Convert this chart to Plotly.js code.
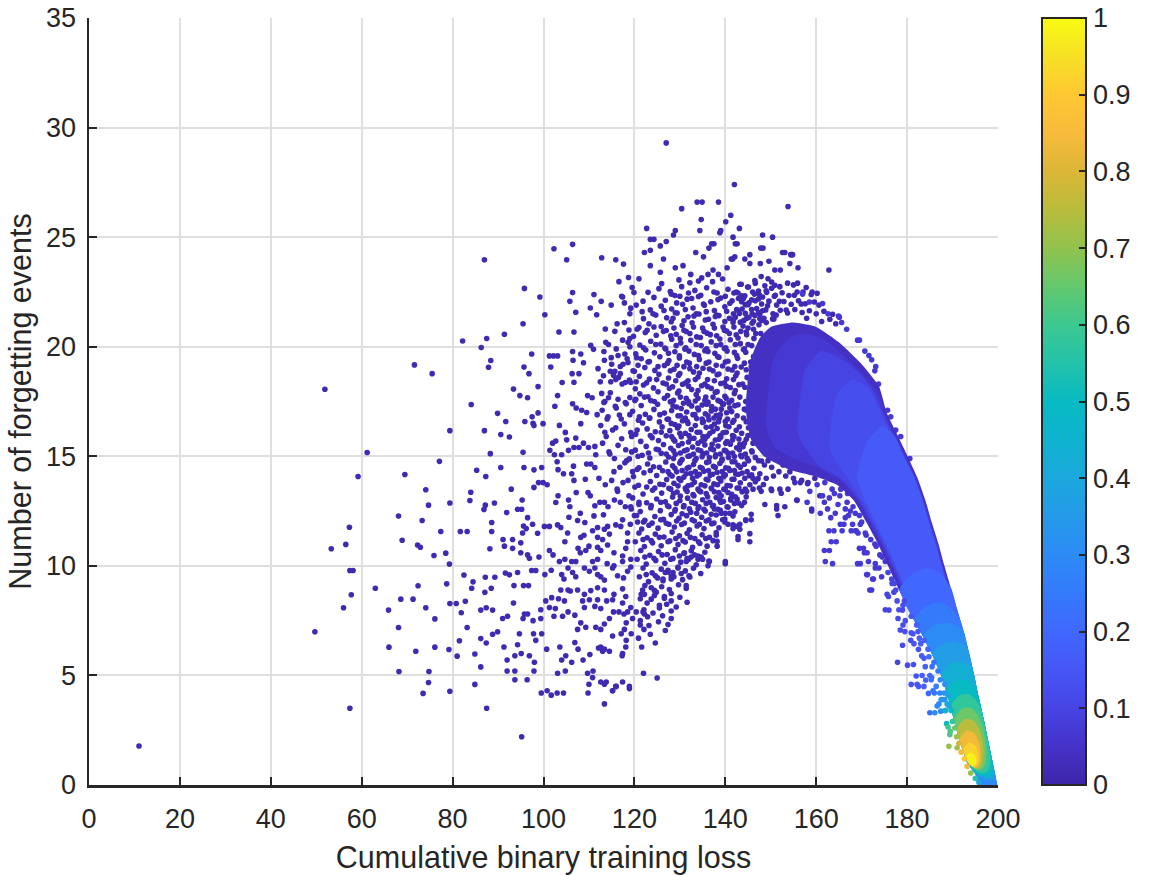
<!DOCTYPE html>
<html>
<head>
<meta charset="utf-8">
<script src="https://cdn.plot.ly/plotly-3.0.1.min.js"></script>
<style>html,body{margin:0;padding:0;background:#fff;}#chart{width:1167px;height:875px;}</style>
</head>
<body>
<div id="chart"></div>
<script>
// ---------- colour scale (parula-like) ----------
const parulaStops = [
  [0.00,[62,38,168]],[0.05,[69,50,200]],[0.10,[71,68,228]],[0.15,[70,86,245]],
  [0.20,[64,104,254]],[0.25,[52,122,251]],[0.30,[45,139,245]],[0.35,[36,154,233]],
  [0.40,[28,168,220]],[0.45,[14,178,207]],[0.50,[8,186,194]],[0.55,[35,194,170]],
  [0.60,[60,200,145]],[0.65,[100,200,110]],[0.70,[145,194,78]],[0.75,[185,188,60]],
  [0.80,[220,182,55]],[0.85,[248,186,60]],[0.90,[254,200,50]],[0.95,[246,224,37]],
  [1.00,[249,251,20]]
];
const colorbarTicks = [0,0.1,0.2,0.3,0.4,0.5,0.6,0.7,0.8,0.9,1];
const xTicks = [0,20,40,60,80,100,120,140,160,180,200];
const yTicks = [0,5,10,15,20,25,30,35];

// ---------- sparse points (low density) ----------
const sparseLeft = [
[11.0,1.78],[51.9,18.06],[61.2,15.17],[59.2,14.08],[71.6,19.17],[75.5,18.77],[82.2,20.26],[87.5,20.37],[86.3,19.96],[88.4,19.37],[87.9,19.06],[84.1,17.36],[89.9,16.96],[79.4,16.17],[87.0,16.17],[88.3,15.12],[77.1,14.77],[69.5,14.17],[85.3,14.36],[87.3,14.08],[74.1,13.47],[84.0,13.36],[83.8,12.98],[74.7,12.77],[79.4,12.87],[87.2,12.77],[89.2,12.87],[86.9,12.57],[68.1,12.27],[73.3,12.07],[57.3,11.76],[88.6,11.98],[77.4,11.57],[81.7,11.57],[83.2,11.57],[88.6,11.57],[56.5,10.98],[53.3,10.78],[68.9,11.17],[72.3,10.95],[72.9,10.85],[75.9,10.47],[78.5,10.58],[88.2,10.78],[79.3,10.08],[57.4,9.79],[58.1,9.79],[82.5,9.58],[84.5,9.27],[87.2,9.48],[89.3,9.48],[63.0,8.98],[72.4,9.09],[78.7,9.18],[84.2,8.98],[87.1,8.79],[88.5,8.98],[57.7,8.68],[68.6,8.48],[71.3,8.48],[56.0,8.09],[65.9,7.98],[74.1,8.09],[79.4,8.28],[80.8,8.28],[82.8,8.38],[81.9,7.86],[86.2,7.98],[87.4,8.09],[88.8,7.98],[76.1,7.58],[49.7,6.99],[68.1,7.19],[83.2,7.19],[89.9,6.99],[88.8,6.88],[81.5,6.58],[86.2,6.68],[87.4,6.48],[66.0,6.29],[71.9,6.1],[76.1,6.29],[79.2,6.18],[81.0,5.88],[84.9,5.98],[86.2,5.39],[68.2,5.18],[74.8,5.18],[74.7,4.68],[84.9,4.59],[73.5,4.18],[79.4,4.28],[57.4,3.5],[87.5,3.5],[87.0,23.97]
];
const sparseMidUpper = [
[106.4,24.67],[102.3,24.47],[105.1,23.97],[112.8,24.06],[115.9,23.97],[117.6,23.77],[116.6,22.97],[118.7,23.16],[95.8,22.66],[99.2,22.27],[106.4,22.47],[105.8,22.07],[111.1,22.38],[112.7,22.07],[117.4,22.27],[119.9,22.47],[114.9,21.9],[117.8,22.0],[119.2,21.76],[100.3,21.46],[107.1,21.57],[110.3,21.77],[111.7,21.46],[95.5,21.05],[103.4,20.67],[106.7,20.67],[113.6,20.81],[116.2,21.05],[118.8,20.76],[119.0,20.37],[91.4,20.57],[110.4,20.06],[111.0,19.88],[113.7,20.2],[114.3,20.1],[97.4,19.67],[101.3,19.58],[102.2,19.58],[103.1,19.58],[106.4,19.78],[106.5,19.38],[108.2,19.67],[108.8,19.27],[113.3,19.78],[113.4,19.38],[117.9,19.67],[118.4,19.45],[95.7,19.07],[101.6,19.07],[96.8,18.77],[106.3,18.77],[107.8,18.77],[114.7,18.88],[115.7,18.88],[116.9,18.77],[106.7,18.38],[104.1,18.37],[113.2,18.67],[114.8,18.4],[115.9,18.5],[116.5,18.6],[118.0,18.37],[119.2,18.37],[98.8,18.18],[93.4,18.07],[94.8,17.77],[96.5,17.67],[103.1,17.77],[109.7,17.77],[110.7,17.67],[112.8,17.87],[114.3,17.67],[113.3,17.46],[102.5,17.28],[106.4,17.4],[107.2,17.2],[108.4,17.1],[109.5,17.0],[98.8,16.98],[91.7,16.59],[95.9,16.59],[97.5,16.8],[97.7,16.5],[97.9,16.4],[99.9,16.49],[103.5,16.41],[108.2,16.49],[90.6,15.99],[92.5,15.88],[104.8,16.09],[102.0,15.6],[102.7,15.7],[105.1,15.75],[107.1,15.83],[95.5,15.18],[101.4,15.27],[102.4,15.07],[104.0,15.07],[105.5,15.27],[106.7,15.4],[107.8,15.4],[108.8,15.6],[109.9,15.4],[111.3,15.45],[111.5,15.07],[90.6,14.49],[95.7,14.49],[97.9,14.38],[99.6,14.49],[103.2,14.39],[106.6,14.55],[109.5,14.65],[110.4,14.65],[111.3,14.49],[103.0,14.75],[98.9,13.8],[99.9,13.8],[97.9,13.58],[100.8,13.7],[92.9,13.5],[104.4,14.2],[106.2,14.2],[106.7,13.9],[109.2,13.95],[95.3,13.0],[103.2,13.2],[105.5,13.0],[107.2,13.35],[109.8,13.35],[110.3,13.2],
[112.0,19.0],[112.5,18.4],[111.8,16.9],[112.6,16.4],[113.5,16.1],[114.2,16.8],[115.2,16.2],[116.0,17.2],[117.1,16.7],[118.2,17.4],[119.0,16.9],[120.3,17.6],[119.7,18.9],[120.5,19.5],[115.0,19.2],[116.4,19.6],[118.6,20.2],[117.2,15.8],[118.1,15.3],[119.4,15.9],[120.6,16.2],[113.0,15.6],[114.4,15.2],[115.6,14.9],[116.8,14.5],[118.3,14.8],[119.6,14.3],[120.8,15.0],[112.2,14.0],[113.6,13.7],[115.0,13.9],[116.3,13.4],[117.5,13.8],[118.8,13.2],[120.1,13.6],[112.4,12.9],[114.2,12.7],[116.9,12.9],[119.3,12.6],[121.0,12.9]
];
const sparseMidLower = [
[91.9,12.43],[94.3,12.58],[95.2,12.58],[96.5,12.2],[97.6,11.9],[95.6,11.82],[96.2,11.7],[95.4,11.5],[98.7,11.49],[100.2,11.8],[101.3,11.8],[103.1,11.87],[103.8,11.75],[102.7,12.89],[105.8,12.7],[105.6,12.22],[108.1,12.4],[107.5,12.07],[109.1,11.98],[111.1,12.28],[113.4,12.9],[115.6,13.0],[113.2,12.33],[111.3,12.74],[114.1,11.8],[115.9,11.87],[117.4,12.1],[119.2,12.7],[120.0,12.3],[120.7,12.0],[105.3,11.5],[104.7,11.1],[108.2,11.3],[108.9,11.4],[110.8,11.6],[111.9,11.75],[113.4,11.67],[111.9,11.3],[113.0,11.2],[114.5,11.45],[117.0,11.8],[118.5,11.5],[91.1,11.2],[91.4,10.9],[93.2,10.8],[95.0,10.6],[93.2,11.2],[95.0,11.05],[96.5,10.5],[96.9,10.35],[99.0,10.4],[101.3,10.7],[102.1,10.5],[103.5,10.2],[104.7,10.3],[106.2,10.2],[107.1,10.2],[107.6,10.8],[108.1,10.6],[109.3,10.7],[110.0,10.9],[111.9,10.85],[112.6,10.7],[114.1,10.95],[115.5,10.6],[117.4,10.45],[119.2,10.3],[110.8,10.2],[111.9,10.3],[114.0,10.1],[115.5,10.0],[117.4,10.2],[119.2,9.95],[118.5,11.1],[118.1,10.8],[91.6,9.67],[92.5,9.59],[94.3,9.7],[95.6,9.1],[96.7,9.1],[97.4,9.79],[98.3,9.79],[100.3,9.6],[101.7,9.8],[104.0,9.6],[104.5,9.4],[105.4,9.9],[106.4,9.7],[107.1,9.5],[109.0,9.9],[110.1,9.75],[111.3,9.9],[111.9,9.6],[112.6,9.5],[113.4,9.35],[115.2,9.9],[116.3,9.55],[117.6,9.45],[118.5,9.75],[103.8,8.9],[105.4,8.9],[107.5,8.9],[109.0,8.7],[110.4,8.87],[111.9,9.0],[113.4,8.9],[115.5,8.7],[117.4,8.95],[118.1,8.6],[93.4,8.3],[93.5,9.1],[95.8,7.8],[99.4,8.0],[100.5,8.4],[101.8,8.55],[101.3,8.1],[102.6,8.05],[104.6,8.4],[103.3,8.5],[105.4,7.9],[106.9,7.75],[105.9,8.85],[108.6,8.4],[109.0,8.1],[110.1,8.45],[111.3,8.15],[111.9,8.45],[112.6,8.05],[113.9,8.4],[115.2,8.45],[116.6,7.9],[117.7,7.8],[119.2,8.1],[91.0,7.6],[92.1,7.7],[95.5,7.6],[96.5,7.8],[97.7,7.5],[99.4,7.6],[102.3,7.7],[104.2,7.7],[94.7,6.9],[97.8,6.9],[99.6,6.9],[98.3,6.6],[107.5,7.1],[108.2,7.4],[109.3,7.2],[111.5,7.2],[112.6,7.1],[113.4,7.35],[115.2,6.8],[118.1,6.3],[106.9,6.5],[107.6,6.2],[112.1,6.25],[113.0,6.1],[114.5,6.1],[117.3,5.9],[91.3,6.3],[94.3,6.4],[103.6,6.3],[100.7,6.2],[92.0,5.7],[93.7,5.9],[95.1,6.0],[96.9,5.9],[98.0,5.6],[104.9,5.9],[104.0,5.7],[106.2,5.6],[108.7,5.7],[110.2,5.95],[92.0,5.2],[93.7,5.2],[96.4,4.8],[97.9,5.2],[103.1,5.1],[104.8,5.2],[109.7,5.1],[110.9,5.2],[110.8,4.9],[110.0,4.6],[113.4,4.6],[115.9,4.5],[118.9,4.4],[115.2,4.3],[93.7,4.8],[99.5,4.2],[100.8,4.3],[101.7,4.1],[103.0,4.2],[104.4,4.2],[109.8,4.2],[113.4,3.7],[95.2,2.2]
];
const cloudLower = [
[113.5,17.5],[115.8,17.28],[118.0,17.45],[121.5,17.32],[123.6,17.54],[125.1,17.37],[127.9,17.49],[129.3,17.25],[130.8,17.42],[132.6,17.3],[133.4,17.52],[134.9,17.34],[136.2,17.47],[137.0,17.27],[138.4,17.55],[139.6,17.39],[140.8,17.44],[142.1,17.31],
[112.9,17.1],[116.7,16.88],[119.6,17.05],[122.4,16.92],[124.3,17.14],[126.6,16.97],[128.2,17.09],[130.1,16.85],[131.5,17.02],[132.9,16.9],[134.1,17.12],[135.6,16.94],[136.9,17.07],[138.0,16.87],[139.1,17.15],[140.3,16.99],[141.4,17.04],
[114.0,16.7],[117.8,16.48],[120.9,16.65],[121.8,16.52],[123.3,16.74],[125.5,16.57],[127.2,16.69],[128.9,16.45],[130.6,16.62],[131.8,16.5],[133.7,16.72],[135.0,16.54],[136.4,16.67],[137.6,16.47],[138.7,16.75],[140.0,16.59],[141.9,16.64],
[115.9,16.3],[119.2,16.08],[122.8,16.25],[124.6,16.12],[126.1,16.34],[127.8,16.17],[129.5,16.29],[131.2,16.05],[132.5,16.22],[134.4,16.1],[135.8,16.32],[137.3,16.14],[138.2,16.27],[139.5,16.07],[140.8,16.35],[142.4,16.19],
[113.8,15.9],[121.4,15.68],[123.9,15.85],[125.3,15.72],[127.0,15.94],[128.6,15.77],[130.3,15.89],[131.9,15.65],[133.1,15.82],[134.8,15.7],[136.1,15.92],[137.8,15.74],[139.0,15.87],[140.4,15.67],[141.6,15.95],[143.0,15.79],
[116.4,15.5],[120.2,15.28],[122.6,15.45],[124.8,15.32],[126.4,15.54],[128.0,15.37],[129.7,15.49],[131.0,15.25],[132.8,15.42],[134.0,15.3],[135.5,15.52],[136.8,15.34],[138.4,15.47],[139.8,15.27],[141.1,15.55],[142.5,15.39],[143.9,15.44],
[114.6,15.1],[118.9,14.88],[121.7,15.05],[123.4,14.92],[125.9,15.14],[127.5,14.97],[129.0,15.09],[130.5,14.85],[132.2,15.02],[133.6,14.9],[135.1,15.12],[136.5,14.94],[137.9,15.07],[139.3,14.87],[140.6,15.15],[142.0,14.99],[143.4,15.04],[144.8,14.91],
[117.9,14.7],[121.0,14.48],[122.9,14.65],[124.2,14.52],[126.9,14.74],[128.4,14.57],[130.0,14.69],[131.6,14.45],[133.0,14.62],[134.5,14.5],[135.9,14.72],[137.4,14.54],[138.8,14.67],[140.1,14.47],[141.5,14.75],[142.8,14.59],[144.2,14.64],
[115.5,14.3],[119.8,14.08],[122.1,14.25],[124.9,14.12],[126.2,14.34],[127.8,14.17],[129.3,14.29],[130.9,14.05],[132.4,14.22],[133.8,14.1],[135.3,14.32],[136.7,14.14],[138.2,14.27],[139.6,14.07],[141.0,14.35],[142.3,14.19],[143.7,14.24],[145.3,14.11],
[118.6,13.9],[120.9,13.68],[123.5,13.85],[125.6,13.72],[127.1,13.94],[128.7,13.77],[130.2,13.89],[131.8,13.65],[133.2,13.82],[134.7,13.7],[136.2,13.92],[137.5,13.74],[139.0,13.87],[140.4,13.67],[141.9,13.95],[143.3,13.79],[146.6,13.84],[148.4,13.71],
[116.2,13.5],[121.9,13.28],[124.0,13.45],[126.0,13.32],[127.6,13.54],[129.4,13.37],[131.3,13.49],[132.9,13.25],[134.3,13.42],[135.8,13.3],[137.0,13.52],[138.6,13.34],[140.0,13.47],[141.4,13.27],[143.0,13.55],[144.7,13.39],[150.2,13.44],[152.3,13.31],
[119.6,13.1],[122.7,12.88],[124.9,13.05],[126.8,12.92],[128.4,13.14],[130.0,12.97],[131.7,13.09],[133.4,12.85],[135.0,13.02],[136.6,12.9],[138.0,13.12],[139.6,12.94],[141.2,13.07],[142.9,12.87],[144.6,13.15],[155.8,12.99],
[118.0,12.7],[121.3,12.48],[123.6,12.65],[125.7,12.52],[127.3,12.74],[129.0,12.57],[130.8,12.69],[132.4,12.45],[134.0,12.62],[135.6,12.5],[137.2,12.72],[138.9,12.54],[140.6,12.67],[142.1,12.47],[151.3,12.75],[159.0,12.59],
[120.5,12.3],[122.3,12.08],[124.5,12.25],[126.4,12.12],[128.1,12.34],[129.8,12.17],[131.5,12.29],[133.2,12.05],[134.8,12.22],[136.4,12.1],[138.0,12.32],[139.9,12.14],[141.7,12.27],[144.5,12.07],[145.7,12.35],
[119.1,11.9],[121.6,11.68],[123.2,11.85],[125.2,11.72],[127.0,11.94],[128.8,11.77],[130.4,11.89],[132.1,11.65],[133.8,11.82],[135.3,11.7],[137.0,11.92],[138.6,11.74],[141.7,11.87],[143.2,11.67],
[121.0,11.5],[122.8,11.28],[124.6,11.45],[126.5,11.32],[128.3,11.54],[129.9,11.37],[131.6,11.49],[133.3,11.25],[134.9,11.42],[136.5,11.3],[138.0,11.52],[142.8,11.34],[145.4,11.47],
[120.2,11.1],[122.2,10.88],[124.0,11.05],[125.9,10.92],[127.8,11.14],[129.6,10.97],[131.2,11.09],[132.8,10.85],[134.4,11.02],[136.0,10.9],[138.2,11.12],
[121.4,10.7],[123.4,10.48],[125.3,10.65],[127.2,10.52],[129.0,10.74],[130.9,10.57],[132.5,10.69],[134.0,10.45],[135.5,10.62],
[120.6,10.3],[122.6,10.08],[124.7,10.25],[126.7,10.12],[128.5,10.34],[130.2,10.17],[131.9,10.29],[133.6,10.05],[136.4,10.22],[140.0,10.1],
[121.9,9.9],[123.9,9.68],[125.9,9.85],[127.4,9.72],[129.6,9.94],[131.2,9.77],[133.0,9.89],[134.6,9.65],
[121.1,9.5],[123.1,9.28],[125.1,9.45],[126.3,9.32],[128.1,9.54],[130.6,9.37],[132.2,9.49],
[122.3,9.1],[124.4,8.88],[126.0,9.05],[127.7,8.92],[129.7,9.14],[131.4,8.97],
[121.5,8.7],[123.7,8.48],[124.4,8.65],[126.6,8.52],[128.1,8.74],[130.0,8.57],
[122.8,8.3],[125.5,8.08],[127.1,8.25],[129.2,8.12],[131.6,8.34],
[121.9,7.9],[122.9,7.68],[124.1,7.85],[126.2,7.72],[128.1,7.94],
[121.3,7.5],[123.2,7.28],[125.3,7.45],[127.4,7.32],
[122.1,7.1],[123.5,6.88],[126.8,7.05],[120.9,6.7],[124.6,6.48],[121.6,6.3],[122.0,5.1],[125.0,4.88],
[148.7,12.8],[151.3,12.6],[153.1,12.7],[151.6,12.3],[155.7,13.0],[159.0,12.5],[160.8,13.2],[145.7,12.1],[144.5,12.1],[143.2,11.9],[142.4,11.8],[142.8,11.2],[145.4,11.1],[141.7,11.7],[140.0,10.2],[138.0,11.4],[138.2,10.9],[139.9,12.0],[141.0,12.4],[139.1,12.4],[138.8,13.0],[137.6,12.6],[141.2,13.0],[142.6,13.05],[144.2,12.9],[146.1,13.5],[147.9,13.4],[144.4,13.5],[150.1,13.5],[152.0,13.5],[153.8,13.5],[155.3,13.8],[156.8,13.9],[158.2,13.8],[159.7,14.0],[146.1,14.0],[147.6,14.2],[149.0,14.0],[150.6,14.1],
[136.2,10.0],[136.5,10.2],[134.0,10.3],[134.7,10.4],[131.0,10.6],[132.5,10.4],[131.4,10.2],[129.6,9.9],[128.5,9.7],[127.4,9.8],[131.4,9.1],[128.1,9.4],[126.3,9.4],[124.8,8.8],[126.6,8.6],[128.1,8.4],[122.2,8.7],[121.8,8.9],[121.3,8.5],[122.1,8.0],[123.7,9.0],[117.4,8.3],[118.5,7.9],[120.4,7.9],[119.6,7.6],[128.1,7.6],[125.5,8.2],[122.2,7.8],[121.3,7.3],[115.4,7.9],[114.5,7.6],[118.2,7.4],[117.8,7.1],[117.1,6.9],[118.2,6.6],[119.3,6.9],[112.6,6.3],[113.4,6.2],[117.4,6.0],[117.4,4.7],[116.0,4.5],[118.9,4.5],[115.2,4.3],[112.6,4.7],[113.8,4.7]
];
const cloudUpper = [
[121.0,23.1],[126.0,22.88],[129.8,23.05],[132.2,22.92],[134.8,23.14],[137.2,22.97],[139.4,23.09],[143.2,22.85],[146.5,23.02],
[119.5,22.7],[123.0,22.48],[125.4,22.65],[127.9,22.52],[130.4,22.74],[133.3,22.57],[135.9,22.69],[138.2,22.45],[140.6,22.62],[142.4,22.5],[144.9,22.72],[147.3,22.54],[150.2,22.67],
[117.2,22.3],[121.9,22.08],[124.3,22.25],[126.8,22.12],[128.9,22.34],[131.6,22.17],[134.1,22.29],[136.8,22.05],[139.0,22.22],[141.5,22.1],[143.6,22.32],[145.8,22.14],[148.2,22.27],[151.9,22.07],[155.2,22.35],
[120.4,21.9],[123.5,21.68],[125.9,21.85],[128.2,21.72],[130.6,21.94],[132.9,21.77],[135.4,21.89],[137.6,21.65],[139.9,21.82],[142.5,21.7],[144.4,21.92],[146.9,21.74],[149.3,21.87],[153.4,21.67],[156.7,21.95],
[119.0,21.5],[122.0,21.28],[124.7,21.45],[127.1,21.32],[129.4,21.54],[131.8,21.37],[134.2,21.49],[136.3,21.25],[138.6,21.42],[140.9,21.3],[143.1,21.52],[145.2,21.34],[147.6,21.47],[150.4,21.27],
[117.8,21.1],[121.0,20.88],[123.2,21.05],[125.9,20.92],[128.1,21.14],[130.5,20.97],[132.7,21.09],[135.0,20.85],[137.3,21.02],[139.5,20.9],[141.7,21.12],[143.9,20.94],[145.9,21.07],
[115.7,20.7],[119.8,20.48],[122.4,20.65],[124.8,20.52],[127.0,20.74],[129.2,20.57],[131.4,20.69],[133.7,20.45],[136.0,20.62],[138.1,20.5],[140.3,20.72],[142.4,20.54],[144.6,20.67],
[117.4,20.3],[121.2,20.08],[123.6,20.25],[125.8,20.12],[128.2,20.34],[130.2,20.17],[132.4,20.29],[134.7,20.05],[136.9,20.22],[139.0,20.1],[141.1,20.32],[143.3,20.14],
[116.0,19.9],[120.3,19.68],[122.5,19.85],[124.4,19.72],[126.7,19.94],[128.9,19.77],[131.1,19.89],[133.2,19.65],[135.5,19.82],[137.7,19.7],[139.8,19.92],[142.0,19.74],[144.0,19.87],
[114.9,19.5],[118.6,19.28],[121.5,19.45],[123.3,19.32],[125.6,19.54],[127.6,19.37],[129.9,19.49],[132.1,19.25],[134.3,19.42],[136.4,19.3],[138.6,19.52],[140.6,19.34],[142.7,19.47],
[116.9,19.1],[120.0,18.88],[122.3,19.05],[124.5,18.92],[126.6,19.14],[128.7,18.97],[130.9,19.09],[133.0,18.85],[135.1,19.02],[137.3,18.9],[139.4,19.12],[141.5,18.94],[143.5,19.07],
[115.4,18.7],[118.9,18.48],[121.1,18.65],[123.3,18.52],[125.4,18.74],[127.5,18.57],[129.7,18.69],[131.8,18.45],[134.0,18.62],[136.1,18.5],[138.2,18.72],[140.3,18.54],[142.3,18.67],
[117.3,18.3],[120.2,18.08],[122.0,18.25],[124.2,18.12],[126.3,18.34],[128.4,18.17],[130.6,18.29],[132.6,18.05],[134.8,18.22],[136.9,18.1],[139.0,18.32],[141.1,18.14],[143.0,18.27],
[114.7,17.9],[119.0,17.68],[121.2,17.85],[123.0,17.72],[125.2,17.94],[127.3,17.77],[129.5,17.89],[131.4,17.65],[133.6,17.82],[135.7,17.7],[137.8,17.92],[139.9,17.74],[142.0,17.87],
[143.5,22.85],[145.1,22.72],[146.6,22.9],[148.7,22.78],[150.2,22.95],[152.0,22.74],[155.0,22.82],[157.8,22.7],
[142.8,22.45],[144.3,22.32],[146.0,22.5],[147.5,22.36],[149.1,22.48],[150.8,22.3],[152.5,22.46],[154.0,22.34],[155.8,22.5],[158.9,22.38],[160.2,22.44],
[143.6,22.05],[145.0,21.92],[146.6,22.1],[148.0,21.95],[149.6,22.08],[151.3,21.9],[152.9,22.06],[154.5,21.94],[156.1,22.1],[157.6,21.96],[159.6,22.04],[160.6,21.9],
[142.9,21.65],[144.4,21.52],[145.8,21.7],[147.3,21.56],[148.9,21.68],[150.5,21.5],[152.1,21.66],[153.7,21.54],[155.3,21.7],[156.9,21.56],[158.5,21.64],[160.0,21.5],[161.7,21.62],[163.6,21.48],
[141.8,21.25],[143.3,21.12],[144.7,21.3],[146.2,21.16],[147.6,21.28],[149.0,21.1],[150.7,21.26],[157.9,21.3],[161.2,21.15],[163.0,21.25],[164.3,21.05],
[142.0,27.4],[133.8,26.6],[134.9,26.6],[138.5,26.6],[130.4,26.3],[153.8,26.4],[134.7,25.8],[140.1,25.7],[141.2,26.0],[122.7,25.4],[129.0,25.3],[128.6,25.1],[134.4,25.3],[139.0,25.3],[138.8,25.2],[143.1,25.4],[148.2,25.1],[150.4,25.0],[123.5,24.9],[124.3,24.9],[122.2,24.3],[123.5,24.4],[125.7,24.6],[127.0,24.8],[133.5,24.3],[135.2,24.1],[136.4,24.5],[137.5,24.7],[141.7,25.0],[142.6,24.7],[148.3,24.5],[153.1,24.3],[154.8,24.2],[141.6,24.0],[142.1,24.1],[162.8,23.5],[123.5,23.7],[125.7,23.4],[126.4,24.0],[129.0,23.6],[130.7,23.7],[132.4,23.3],[134.1,23.0],[136.2,23.3],[137.3,23.5],[138.5,23.3],[140.4,23.6],[141.3,24.0],[144.3,24.0],[145.4,24.2],[145.4,23.8],[147.7,23.8],[149.6,23.9],[150.9,23.5],[152.1,23.5],[154.6,24.2],[154.2,23.8],[156.0,23.6],[147.9,23.2],[149.4,23.1],[150.9,22.8],[153.7,22.9],[155.9,22.9],[157.1,22.5],[159.1,22.5],[127.0,29.3],[154.4,24.2],[152.6,24.3],[147.8,24.5],[142.2,24.7],[137.0,24.7]
];
const cloudFill = [
[128.1,22.4],[130.0,22.3],[131.9,22.45],[134.6,22.35],[137.5,22.5],[140.0,22.3],[141.9,22.45],[144.0,22.2],[146.4,22.4],[149.0,22.55],[151.0,22.35],
[121.7,21.6],[124.1,21.5],[126.5,21.65],[129.0,21.55],[131.2,21.7],[133.6,21.5],[135.8,21.6],[138.1,21.45],[140.3,21.62],[141.8,21.5],[143.7,21.72],[145.9,21.5],[148.2,21.64],[151.2,21.45],
[120.6,20.8],[122.8,20.75],[124.3,20.9],[126.4,20.7],[128.7,20.85],[130.9,20.75],[133.0,20.9],[135.3,20.7],[137.6,20.85],[139.8,20.75],[141.9,20.9],[143.4,20.7],[145.0,20.85],[146.7,20.6],
[119.0,20.0],[122.0,19.95],[124.7,20.1],[126.9,19.9],[129.2,20.05],[131.3,19.95],[133.6,20.1],[135.9,19.9],[138.0,20.05],[140.1,19.95],[142.2,20.1],[144.2,19.9],[145.8,20.05],
[117.5,19.2],[120.8,19.15],[123.0,19.3],[125.2,19.1],[127.3,19.25],[129.4,19.15],[131.5,19.3],[133.7,19.1],[135.8,19.25],[138.0,19.15],[140.0,19.3],[142.1,19.1],[144.2,19.25],[145.7,19.1],
[120.4,18.4],[122.7,18.35],[124.9,18.5],[127.0,18.3],[129.1,18.45],[131.3,18.35],[133.4,18.5],[135.5,18.3],[137.6,18.45],[139.8,18.35],[141.8,18.5],[143.8,18.3],[145.5,18.45],
[116.4,17.6],[120.1,17.55],[122.2,17.7],[124.4,17.5],[126.6,17.65],[128.6,17.55],[130.1,17.7],[131.9,17.5],[134.0,17.65],[135.5,17.55],[137.3,17.7],[138.9,17.5],[140.2,17.65],[141.4,17.55],[143.2,17.7],[144.5,17.5],
[121.1,16.8],[123.4,16.75],[125.6,16.9],[127.5,16.7],[129.6,16.85],[131.2,16.75],[133.3,16.9],[134.9,16.7],[136.2,16.85],[137.5,16.75],[138.9,16.9],[140.5,16.7],[142.6,16.85],[144.0,16.75],[145.4,16.9],
[120.3,16.0],[123.5,15.95],[125.9,16.1],[128.2,15.9],[130.0,16.05],[132.0,15.95],[133.8,16.1],[135.1,15.9],[136.6,16.05],[138.9,15.95],[140.2,16.1],[141.9,15.9],[143.6,16.05],[145.0,15.95],
[119.4,15.2],[123.1,15.15],[125.3,15.3],[127.0,15.1],[128.6,15.25],[130.1,15.15],[131.6,15.3],[133.0,15.1],[134.6,15.25],[135.9,15.15],[137.4,15.3],[138.9,15.1],[140.1,15.25],[141.6,15.15],[143.1,15.3],[144.4,15.1],[145.8,15.25],
[120.6,14.4],[123.5,14.35],[125.5,14.5],[127.4,14.3],[128.9,14.45],[130.5,14.35],[132.0,14.5],[133.4,14.3],[134.9,14.45],[136.3,14.35],[137.8,14.5],[139.3,14.3],[140.7,14.45],[142.0,14.35],[143.3,14.5],[144.8,14.3],[146.3,14.45],
[122.7,13.6],[124.5,13.55],[126.4,13.7],[128.0,13.5],[129.6,13.65],[131.2,13.55],[132.6,13.7],[134.0,13.5],[135.5,13.65],[136.9,13.55],[138.3,13.7],[139.7,13.5],[141.1,13.65],[142.6,13.55],[145.4,13.7],[147.5,13.55],
[121.0,12.8],[123.7,12.75],[125.8,12.9],[127.6,12.7],[129.2,12.85],[130.9,12.75],[132.6,12.9],[134.2,12.7],[135.8,12.85],[137.4,12.75],[139.0,12.9],[140.4,12.7],[142.0,12.85],[143.6,12.75],
[122.0,12.0],[123.9,11.95],[125.8,12.1],[127.6,11.9],[129.3,12.05],[131.0,11.95],[132.7,12.1],[134.3,11.9],[135.8,12.05],[137.5,11.95],[139.4,12.1],[140.6,11.9],
[121.9,11.2],[123.7,11.15],[125.5,11.3],[127.4,11.1],[129.1,11.25],[130.7,11.15],[132.3,11.3],[134.1,11.1],[135.7,11.25],[137.3,11.15],
[122.3,10.4],[124.3,10.35],[126.1,10.5],[128.0,10.3],[129.9,10.45],[131.6,10.35],[133.2,10.5],[135.0,10.3],
[122.6,9.6],[124.6,9.55],[126.8,9.7],[128.7,9.5],[130.3,9.65],[132.0,9.55]
];
const cloudCore = [
[129.3,22.0],[132.6,22.2],[135.2,21.95],[138.4,22.15],[141.0,21.98],[142.9,22.2],[145.2,22.0],[147.3,22.18],
[128.5,21.3],[130.9,21.18],[133.1,21.4],[135.6,21.22],[137.8,21.38],[139.9,21.15],[142.2,21.35],[144.1,21.2],[146.5,21.42],[148.0,21.2],
[128.0,20.5],[130.1,20.38],[132.2,20.6],[134.5,20.42],[136.7,20.55],[138.8,20.35],[140.9,20.6],[142.8,20.4],[144.7,20.55],[146.3,20.38],[147.8,20.6],
[127.5,19.7],[129.9,19.58],[132.0,19.8],[134.1,19.6],[136.2,19.78],[138.3,19.55],[140.4,19.8],[142.5,19.6],[144.5,19.75],[146.2,19.55],[147.7,19.78],
[127.9,18.9],[130.0,18.78],[132.2,19.0],[134.3,18.8],[136.5,18.98],[138.6,18.75],[140.6,18.98],[142.6,18.8],[144.6,18.95],[146.0,18.75],[147.5,18.98],
[127.7,18.1],[129.8,17.98],[131.9,18.2],[134.0,18.0],[136.1,18.18],[138.2,17.95],[140.2,18.2],[142.2,18.0],[144.3,18.15],[145.9,17.95],[147.4,18.18],
[128.5,17.3],[130.3,17.18],[132.0,17.4],[133.9,17.2],[135.9,17.38],[137.8,17.15],[139.4,17.38],[141.0,17.2],[142.8,17.35],[144.2,17.15],[145.6,17.38],[147.0,17.2],
[128.1,16.5],[129.8,16.38],[131.6,16.6],[133.4,16.4],[135.2,16.58],[136.9,16.35],[138.5,16.58],[140.1,16.4],[141.6,16.55],[143.1,16.35],[144.6,16.58],[146.0,16.4],[147.3,16.55],
[128.9,15.7],[130.5,15.58],[132.3,15.8],[134.0,15.6],[135.5,15.78],[137.1,15.55],[138.6,15.78],[140.1,15.6],[141.6,15.75],[143.2,15.55],[144.6,15.78],[146.1,15.6],[147.5,15.75],
[128.6,14.9],[130.2,14.78],[131.8,15.0],[133.3,14.8],[134.9,14.98],[136.4,14.75],[137.8,14.98],[139.2,14.8],[140.7,14.95],[142.1,14.75],[143.6,14.98],[145.1,14.8],[146.6,14.95],[148.0,14.78],
[128.3,14.1],[129.8,13.98],[131.4,14.2],[132.8,14.0],[134.3,14.18],[135.8,13.95],[137.2,14.18],[138.6,14.0],[140.0,14.15],[141.5,13.95],[142.9,14.18],[144.3,14.0],[145.8,14.15],[147.2,13.98],
[128.6,13.3],[130.1,13.18],[131.6,13.4],[133.1,13.2],[134.6,13.38],[136.1,13.15],[137.6,13.38],[139.1,13.2],[140.6,13.35],[142.2,13.15],[143.7,13.38],
[128.9,12.5],[130.5,12.38],[132.1,12.6],[133.7,12.4],[135.3,12.58],[136.9,12.35],[138.4,12.58],[140.0,12.4],
[144.2,15.6],[145.1,16.3],[144.6,17.1],[145.5,17.8],[144.8,18.6],[145.6,19.3],[145.0,20.1],[146.2,20.8],[147.4,21.0],[148.5,21.3],[146.9,16.0],[147.5,16.6],[146.8,17.3],[147.2,18.1],[146.4,18.9],[147.9,19.1],[146.6,19.6],[148.1,20.0],[145.9,15.2],[147.3,14.8],[148.6,14.6],[150.2,14.5],[151.8,14.3],[153.3,14.1],[155.0,14.0],[156.5,13.8],[158.1,13.75],[149.4,14.8],[152.7,14.6],[154.2,14.3]
];
const edgePts = [
[161.8,12.9],[162.9,13.1],[164.0,13.3],[161.4,13.2],[166.4,12.6],[167.5,12.5],[168.6,12.4],[167.1,12.3],[166.1,11.9],[165.7,11.6],[162.8,11.6],[163.9,11.6],[168.6,11.6],[169.2,11.5],[170.8,11.5],[161.8,10.7],[162.9,10.7],[163.3,11.1],[164.4,11.1],[162.0,10.2],[163.6,10.1],[170.4,10.8],[171.2,10.6],[169.7,10.1],[171.5,10.2],[173.0,10.1],[171.3,9.6],[172.6,9.4],[172.2,8.9],[165.3,11.9],[167.7,11.6],[168.8,11.6],[169.5,10.8],[170.6,10.6],[169.1,10.1],[171.1,9.6],[172.4,9.4],[171.8,8.9],[173.8,9.9],[174.5,10.4],[172.9,11.0],[170.0,12.0],[164.8,12.8],[163.2,12.2],[166.9,13.3],[165.4,13.5],
[158.6,13.4],[160.2,13.7],[161.9,13.8],[163.5,13.5],[165.2,13.2],[166.8,12.9],[168.1,12.7],[169.5,12.3],[158.0,12.9],[160.9,12.4],[162.5,12.6],[164.2,12.4],[166.4,12.2],[168.0,11.9],[169.7,11.9],[171.0,11.4],[172.0,11.2],[173.2,10.9],[174.0,10.5],[175.2,10.2],[173.0,9.9],[174.4,9.5],
[165.1,21.35],[166.7,20.8],[169.1,20.3],[171.6,19.6],[173.1,19.1],[173.7,18.3],[175.7,17.1],[177.5,16.2],[162.6,21.5],[164.9,21.4],[165.6,21.1],[169.5,20.3],[170.7,19.8],[172.2,19.4],[172.9,18.9],[161.4,21.97],[158.5,22.04],[157.0,22.4],[176.4,16.8],[178.6,15.9],[180.6,14.9]
];
const tailDotX = [179.0,182.5,183.7,180.1,182.0,180.9,182.5,184.1,184.7,185.0,187.4,187.0,187.2,180.8,179.5,179.1,181.3,182.4,181.5,183.0,184.8,185.5,185.4,188.3,188.7,189.0,189.5,189.2,188.3,186.1,188.2,187.9,189.2,188.5,191.0,178.5,177.9,181.4,182.2,183.7,183.3,185.3,186.0,176.0,179.0,179.4,177.1,177.2,178.2,175.2,175.6,176.7,189.4,
 175.8,176.6,177.5,175.9,177.8,179.1,178.0,179.6,180.9,182.1,180.9,182.7,183.8,184.6,185.9,186.8,187.3,186.4,188.3,189.0,188.8,189.7,190.0,190.5,190.9,191.4,191.9,192.6,193.2,194.0,195.0,195.8,184.0,185.0,183.2,185.7,187.5,186.6];
const tailDotY = [6.38,6.19,5.78,5.47,4.97,4.59,4.5,4.79,4.18,3.3,3.37,3.7,4.2,6.6,7.0,7.3,6.9,7.0,6.45,6.45,5.85,5.4,4.9,3.4,2.8,2.65,2.45,1.77,3.9,3.3,4.2,3.9,3.6,3.4,1.7,7.07,5.6,5.5,4.6,4.5,5.0,4.8,4.2,7.98,7.98,8.4,8.8,9.2,8.0,8.0,8.7,9.2,2.3,
 9.7,9.4,8.9,8.6,8.4,8.2,7.6,7.5,7.7,7.3,6.95,6.7,6.6,6.2,5.6,5.2,4.8,4.5,4.6,4.1,3.7,3.4,2.9,2.6,2.2,1.9,1.5,1.2,0.85,0.55,0.3,0.12,5.4,5.0,5.9,4.3,3.9,3.6];
const tailDotV = [0.12,0.14,0.16,0.12,0.14,0.14,0.16,0.18,0.2,0.22,0.3,0.28,0.27,0.12,0.12,0.12,0.14,0.15,0.14,0.16,0.2,0.22,0.22,0.45,0.5,0.6,0.62,0.7,0.35,0.3,0.33,0.33,0.4,0.42,0.72,0.12,0.1,0.13,0.15,0.17,0.17,0.22,0.25,0.1,0.12,0.12,0.1,0.1,0.12,0.1,0.1,0.1,0.62,
 0.1,0.1,0.11,0.1,0.12,0.13,0.12,0.13,0.15,0.16,0.14,0.17,0.18,0.2,0.22,0.25,0.28,0.26,0.32,0.38,0.4,0.5,0.58,0.66,0.72,0.78,0.85,0.9,0.85,0.7,0.55,0.4,0.18,0.2,0.16,0.24,0.33,0.3];

// ---------- density contours of the solid band (outlines) ----------
const contourValues = [0.04,0.07,0.10,0.13,0.16,0.20,0.25,0.30,0.36,0.43,0.50,0.58,0.66,0.75,0.84,0.92,0.98];
const contourA = [[144.5,17.2],[145.6,19.4],[147.6,20.4],[150,20.9],[155,21.1],[160,20.9],[165,20.2],[170,19.2],[173.8,18.2],[175.5,17.0],[177.8,16.0],[180.1,15.0],[182.3,14.0],[184.0,13.0],[185.4,12.0],[186.9,11.0],[188.2,10.0],[189.6,9.0],[191.0,8.0],[192.4,7.0],[193.6,6.0],[194.7,5.0],[195.7,4.0],[196.8,3.0],[197.8,2.0],[198.8,1.0],[200.4,-1.2],[198.4,-1.2],[195.1,0.5],[193.4,1.0],[191.7,2.0],[190.4,3.0],[189.1,4.0],[187.6,5.0],[185.5,6.0],[183.0,7.0],[180.3,8.0],[178.0,9.0],[175.8,10.0],[173.6,11.0],[171.0,12.0],[168.2,13.0],[164.5,13.7],[159.5,14.1],[154,14.4],[148.5,15.0],[145.6,15.8]];
const contourB = [[149,16.3],[150.5,19.4],[154,20.4],[158,20.6],[162,20.3],[166,19.6],[170,18.8],[173.6,17.9],[175,17.0],[177.3,16.0],[179.7,15.0],[182,14.0],[183.7,13.0],[185.2,12.0],[186.7,11.0],[188.0,10.0],[189.4,9.0],[190.8,8.0],[192.2,7.0],[193.4,6.0],[194.5,5.0],[195.5,4.0],[196.6,3.0],[197.6,2.0],[198.6,1.0],[200.2,-1.2],[198.6,-1.2],[195.4,0.5],[193.8,1.0],[192.1,2.0],[190.8,3.0],[189.5,4.0],[188.0,5.0],[186.0,6.0],[183.6,7.0],[180.9,8.0],[178.6,9.0],[176.5,10.0],[174.3,11.0],[171.8,12.0],[169.1,13.0],[165.5,13.9],[160,14.5],[155,14.9],[151,15.4]];
const contourC = [[156,16.0],[157.5,18.9],[161,19.8],[165,19.5],[169,18.9],[172.5,18.0],[174.6,17.0],[176.9,16.0],[179.3,15.0],[181.6,14.0],[183.4,13.0],[184.9,12.0],[186.4,11.0],[187.7,10.0],[189.1,9.0],[190.5,8.0],[191.9,7.0],[193.1,6.0],[194.2,5.0],[195.3,4.0],[196.4,3.0],[197.4,2.0],[198.4,1.0],[200.0,-1.2],[198.8,-1.2],[195.6,0.5],[194.0,1.0],[192.3,2.0],[191.0,3.0],[189.7,4.0],[188.3,5.0],[186.4,6.0],[184.0,7.0],[181.3,8.0],[179.0,9.0],[176.9,10.0],[174.7,11.0],[172.2,12.0],[169.5,13.0],[166,13.9],[160.5,14.6]];
const contourD = [[163,15.3],[164.5,17.8],[168,18.5],[171.5,18.1],[174.2,17.0],[176.4,16.0],[178.7,15.0],[181.1,14.0],[182.9,13.0],[184.4,12.0],[185.9,11.0],[187.2,10.0],[188.6,9.0],[190.0,8.0],[191.5,7.0],[192.7,6.0],[193.9,5.0],[195.0,4.0],[196.1,3.0],[197.2,2.0],[198.2,1.0],[199.8,-1.2],[199.0,-1.2],[195.8,0.5],[194.1,1.0],[192.4,2.0],[191.1,3.0],[189.8,4.0],[188.4,5.0],[186.5,6.0],[184.2,7.0],[181.6,8.0],[179.3,9.0],[177.2,10.0],[175.0,11.0],[172.6,12.0],[170.0,13.0],[167,14.0]];
const contourE = [[169,14.0],[171,15.6],[174.5,16.4],[177.3,15.9],[179.3,15.0],[181.7,14.0],[183.4,13.0],[184.8,12.0],[186.3,11.0],[187.6,10.0],[189.0,9.0],[190.4,8.0],[191.8,7.0],[193.0,6.0],[194.2,5.0],[195.2,4.0],[196.3,3.0],[197.35,2.0],[198.35,1.0],[199.7,-1.2],[199.1,-1.2],[196.0,0.5],[194.2,1.0],[192.5,2.0],[191.2,3.0],[189.9,4.0],[188.6,5.0],[186.7,6.0],[184.5,7.0],[181.9,8.0],[179.6,9.0],[177.5,10.0],[175.4,11.0],[173.1,12.0],[170.8,13.0]];
// tail levels: the band colour depends mainly on height, so these run edge to edge
const contourF = [[178.4,8.95],[181,9.6],[184,9.9],[187,9.7],[189.65,9.0],[191.05,8.0],[192.45,7.0],[193.65,6.0],[194.75,5.0],[195.75,4.0],[196.85,3.0],[197.85,2.0],[198.85,1.0],[200.5,-1.2],[197.4,-1.2],[195.0,0.5],[193.3,1.0],[191.6,2.0],[190.3,3.0],[189.0,4.0],[187.5,5.0],[185.4,6.0],[182.9,7.0],[180.2,8.0]];
const contourG = [[181.6,7.6],[184.5,8.2],[187.5,8.35],[190.0,8.0],[191.75,7.5],[192.45,7.0],[193.65,6.0],[194.75,5.0],[195.75,4.0],[196.85,3.0],[197.85,2.0],[198.85,1.0],[200.5,-1.2],[197.3,-1.2],[195.0,0.5],[193.3,1.0],[191.6,2.0],[190.3,3.0],[189.0,4.0],[187.5,5.0],[185.4,6.0],[182.9,7.0]];
const contourH = [[183.5,6.8],[186,7.3],[189,7.4],[191.5,7.2],[192.45,7.0],[193.65,6.0],[194.75,5.0],[195.75,4.0],[196.85,3.0],[197.85,2.0],[198.85,1.0],[200.5,-1.2],[197.2,-1.2],[195.0,0.5],[193.3,1.0],[191.6,2.0],[190.3,3.0],[189.0,4.0],[187.5,5.0],[185.4,6.0]];
const contourI = [[185.6,6.0],[188,6.45],[190.5,6.55],[192.8,6.35],[193.65,6.0],[194.75,5.0],[195.75,4.0],[196.85,3.0],[197.85,2.0],[198.85,1.0],[199.4,0.5],[199.5,0.3],[198.5,0.22],[197.3,0.25],[196.3,0.32],[195.0,0.5],[193.3,1.0],[191.6,2.0],[190.3,3.0],[189.0,4.0],[187.5,5.0]];
const contourJ = [[187.4,5.1],[189.5,5.55],[191.8,5.65],[193.9,5.4],[194.75,5.0],[195.75,4.0],[196.85,3.0],[197.85,2.0],[198.85,1.0],[199.2,0.55],[198.7,0.35],[197.5,0.32],[196.4,0.38],[195.0,0.52],[193.3,1.0],[191.6,2.0],[190.3,3.0],[189.0,4.0],[188.0,4.7]];
const contourK = [[188.6,4.3],[190.5,4.75],[192.6,4.8],[194.6,4.5],[195.75,4.0],[196.85,3.0],[197.85,2.0],[198.6,1.2],[198.8,0.8],[198.2,0.45],[197.0,0.42],[195.9,0.47],[195.0,0.57],[193.3,1.0],[191.6,2.0],[190.3,3.0],[189.3,3.8]];
const contourL = [[189.6,3.6],[191.5,4.1],[193.5,4.15],[195.3,3.85],[196.3,3.4],[196.85,3.0],[197.8,2.0],[198.3,1.3],[198.3,0.9],[197.6,0.6],[196.5,0.52],[195.5,0.6],[194.5,0.75],[193.3,1.05],[191.6,2.0],[190.3,3.0]];
const contourM = [[190.3,3.0],[192.2,3.5],[194.2,3.5],[195.7,3.15],[196.6,2.7],[197.2,2.1],[197.5,1.5],[197.3,1.0],[196.6,0.72],[195.5,0.68],[194.5,0.8],[193.3,1.1],[191.6,2.0],[190.6,2.7]];
const contourN = [[190.9,2.55],[192.7,3.0],[194.5,2.95],[195.9,2.55],[196.6,2.0],[196.8,1.5],[196.6,1.0],[195.9,0.76],[195.0,0.74],[194.0,0.92],[192.5,1.5],[191.6,2.0],[191.2,2.3]];
const contourO = [[191.5,2.1],[193.2,2.5],[194.9,2.35],[195.9,1.9],[196.2,1.4],[196.0,1.0],[195.5,0.82],[194.6,0.8],[193.6,1.0],[192.4,1.5],[191.8,1.85]];
const contourP = [[192.3,1.6],[193.6,1.95],[195.0,1.8],[195.7,1.4],[195.6,1.0],[195.1,0.84],[194.2,0.85],[193.3,1.1]];
const contourQ = [[192.9,1.3],[194.0,1.5],[195.1,1.3],[195.1,0.95],[194.3,0.88],[193.5,1.0]];
const contourShapes = [contourA,contourB,contourC,contourD,contourE,contourF,contourG,contourH,contourI,contourJ,contourK,contourL,contourM,contourN,contourO,contourP,contourQ];

// ---------- helpers ----------
function cmap(v){
  for (let i=1;i<parulaStops.length;i++){
    const a=parulaStops[i-1], b=parulaStops[i];
    if (v<=b[0]){
      const t=(v-a[0])/(b[0]-a[0]);
      const c=a[1].map((x,k)=>Math.round(x+(b[1][k]-x)*t));
      return 'rgb('+c.join(',')+')';
    }
  }
  return 'rgb('+parulaStops[parulaStops.length-1][1].join(',')+')';
}
const colorscale = parulaStops.map(s=>[s[0],'rgb('+s[1].join(',')+')']);
const xs = pts=>pts.map(p=>p[0]);
const ys = pts=>pts.map(p=>p[1]);

const INK = '#262626';
const FONT = 'Liberation Sans, Arial, Helvetica, sans-serif';
const DOT = 5.6;
const sparseAll = sparseLeft.concat(sparseMidUpper, sparseMidLower, cloudLower, cloudUpper, cloudFill, cloudCore);

const traces = [];
traces.push({type:'scatter',mode:'markers',x:xs(sparseAll),y:ys(sparseAll),hoverinfo:'skip',
  marker:{size:DOT,color:cmap(0.015),line:{width:0}}});
traces.push({type:'scatter',mode:'markers',x:xs(edgePts),y:ys(edgePts),hoverinfo:'skip',
  marker:{size:DOT,color:cmap(0.07),line:{width:0}}});
contourShapes.forEach((shape,i)=>{
  const px = xs(shape), py = ys(shape);
  px.push(shape[0][0]); py.push(shape[0][1]);
  traces.push({type:'scatter',mode:'lines',x:px,y:py,fill:'toself',hoverinfo:'skip',
    fillcolor:cmap(contourValues[i]),line:{width:0,shape:'spline',smoothing:0.5,color:cmap(contourValues[i])}});
});
traces.push({type:'scatter',mode:'markers',x:tailDotX,y:tailDotY,hoverinfo:'skip',
  marker:{size:DOT,color:tailDotV,colorscale:colorscale,cmin:0,cmax:1,line:{width:0},showscale:true,
    colorbar:{x:1.0484,xanchor:'left',y:0.5,yanchor:'middle',len:1,lenmode:'fraction',thickness:44,thicknessmode:'pixels',
      xpad:0,ypad:0,outlinewidth:2,outlinecolor:INK,borderwidth:0,ticks:'inside',ticklen:8,tickwidth:2,tickcolor:INK,
      tickmode:'array',tickvals:colorbarTicks,ticktext:colorbarTicks.map(String),ticklabelstandoff:9,
      tickfont:{family:FONT,size:27,color:INK}}}});

const axisCommon = {showgrid:true,gridcolor:'#dfdfdf',gridwidth:2,zeroline:false,showline:true,linecolor:INK,linewidth:2.5,
  ticks:'inside',ticklen:8,tickwidth:2,tickcolor:INK,mirror:false,tickfont:{family:FONT,size:27,color:INK},
  fixedrange:true,automargin:false};
const layout = {
  width:1167,height:875,margin:{l:89,r:169,t:18,b:90,pad:0},
  paper_bgcolor:'#ffffff',plot_bgcolor:'#ffffff',showlegend:false,
  font:{family:FONT,size:27,color:INK},
  xaxis:Object.assign({},axisCommon,{range:[0,200],tickmode:'array',tickvals:xTicks,ticktext:xTicks.map(String),ticklabelstandoff:8,
    title:{text:'Cumulative binary training loss',font:{family:FONT,size:30.5,color:INK},standoff:14}}),
  yaxis:Object.assign({},axisCommon,{range:[0,35],tickmode:'array',tickvals:yTicks,ticktext:yTicks.map(String),ticklabelstandoff:5,
    title:{text:'Number of forgetting events',font:{family:FONT,size:30.5,color:INK},standoff:6}})
};
Plotly.newPlot('chart',traces,layout,{displayModeBar:false,staticPlot:true});
</script>
</body>
</html>
